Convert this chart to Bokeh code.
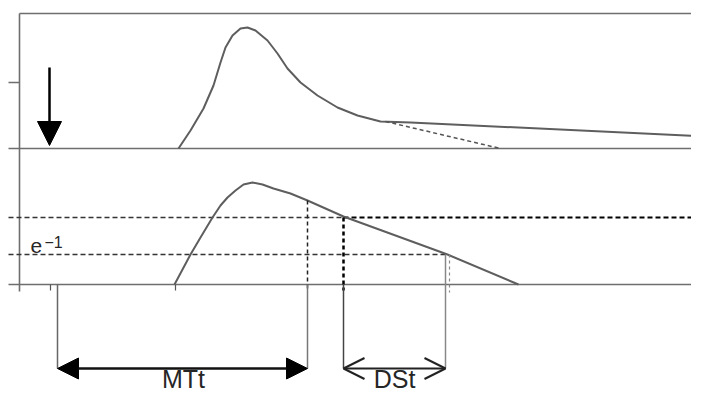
import numpy as np
from bokeh.plotting import figure
from bokeh.models import Range1d, Arrow, NormalHead, OpenHead
from bokeh.core.properties import value
from bokeh.embed import file_html
from bokeh.resources import INLINE

# ---- data (time axis in schematic units, signal in schematic units) ----
# upper panel: concentration-time curve (values above its own baseline)
top_t = [178, 190, 203, 213, 220, 225, 232, 240, 247, 255, 267, 277, 287, 300, 317, 337, 357, 380, 410, 707]
top_v = [0, 18, 40, 63, 86, 101, 113, 120, 121, 118, 108, 95, 80, 66, 53, 41, 33, 27, 26, 12]
# extrapolated first-pass decay (dashed)
tail_t = [385, 500]
tail_v = [27, 0]

# lower panel: log curve
low_t = [174, 190, 200, 212, 220, 227, 235, 243, 252, 262, 273, 290, 307, 343, 447, 518]
low_v = [0, 30, 47, 67, 79, 87, 94, 100, 102, 100, 96, 91, 84, 68, 30, 0]

level_hi = 67      # reference level
level_e = 30       # e^-1 level
t_inj = 49         # injection (arrow)
t_start = 57       # MTt start
t_mt = 307         # MTt end
t_ds1 = 343        # DSt start
t_ds2 = 445        # DSt end
tick_t = [50, 175]

# ---- layout constants ----
AX = 19            # left axis position
EDGE = 707
TOP_BASE = 136     # baseline of upper panel
TOP_TOP = 271      # top border of upper panel
TOP_TICK = 202
BR_Y = -84         # bracket arrows level

p = figure(width=691, height=391, x_range=Range1d(0, 691), y_range=Range1d(-107, 284),
           output_backend="svg", toolbar_location=None, min_border=0,
           x_axis_type=None, y_axis_type=None)
p.grid.visible = False
p.outline_line_color = None
p.background_fill_color = "white"
p.border_fill_color = "white"

axc = "#6e6e6e"
# frame lines
p.segment(x0=[AX, AX, 8, 8, 8], y0=[-7, TOP_TOP, TOP_BASE, 0, TOP_TICK],
          x1=[AX, EDGE, EDGE, EDGE, AX], y1=[TOP_TOP, TOP_TOP, TOP_BASE, 0, TOP_TICK],
          line_color=axc, line_width=1.6)
# small ticks below lower baseline
p.segment(x0=tick_t, y0=[0] * len(tick_t), x1=tick_t, y1=[-6] * len(tick_t),
          line_color="#555555", line_width=1.2)

# horizontal dashed levels
p.segment(x0=[8], y0=[level_hi], x1=[t_ds1], y1=[level_hi], line_color="#333333",
          line_width=1.3, line_dash="5 3")
p.segment(x0=[t_ds1], y0=[level_hi], x1=[EDGE], y1=[level_hi], line_color="#000000",
          line_width=2.0, line_dash="5 3")
p.segment(x0=[8], y0=[level_e], x1=[t_ds2 + 2], y1=[level_e], line_color="#333333",
          line_width=1.3, line_dash="5 3")

# curves
p.line(top_t, np.array(top_v) + TOP_BASE, line_color="#5e5e5e", line_width=2)
p.line(tail_t, np.array(tail_v) + TOP_BASE, line_color="#555555", line_width=1.5, line_dash="4 3")
p.line(low_t, low_v, line_color="#5e5e5e", line_width=2)

# vertical markers
p.segment(x0=[t_mt], y0=[84], x1=[t_mt], y1=[-6], line_color="#222222", line_width=1.5, line_dash="4 3")
p.segment(x0=[t_mt], y0=[0], x1=[t_mt], y1=[BR_Y], line_color="#777777", line_width=1.5)
p.segment(x0=[t_ds1], y0=[level_hi], x1=[t_ds1], y1=[-6], line_color="#000000", line_width=2.5, line_dash="4 3")
p.segment(x0=[t_ds1], y0=[0], x1=[t_ds1], y1=[BR_Y], line_color="#444444", line_width=1.5)
p.segment(x0=[t_ds2], y0=[level_e], x1=[t_ds2], y1=[BR_Y], line_color="#888888", line_width=1.5)
p.segment(x0=[t_ds2 + 4], y0=[level_e], x1=[t_ds2 + 4], y1=[-8], line_color="#888888", line_width=1.2, line_dash="3 3")
p.segment(x0=[t_start], y0=[0], x1=[t_start], y1=[BR_Y], line_color="#666666", line_width=1.5)

# injection arrow
p.add_layout(Arrow(end=NormalHead(size=24, fill_color="black", line_color="black"),
                   x_start=t_inj, y_start=217, x_end=t_inj, y_end=TOP_BASE + 3,
                   line_color="black", line_width=2.5))
# MTt bracket arrow
p.add_layout(Arrow(start=NormalHead(size=21, fill_color="black", line_color="black"),
                   end=NormalHead(size=21, fill_color="black", line_color="black"),
                   x_start=t_start, y_start=BR_Y, x_end=t_mt, y_end=BR_Y,
                   line_color="#111111", line_width=2.5))
# DSt bracket arrow
p.add_layout(Arrow(start=OpenHead(size=21, line_color="#222222", line_width=2),
                   end=OpenHead(size=21, line_color="#222222", line_width=2),
                   x_start=t_ds1, y_start=BR_Y, x_end=t_ds2, y_end=BR_Y,
                   line_color="#222222", line_width=2))

# texts
p.text(x=[(t_start + t_mt) / 2 + 1, (t_ds1 + t_ds2) / 2], y=[-94, -94], text=["MTt", "DSt"],
       text_align="center", text_baseline="middle", text_font=value("Liberation Sans"),
       text_font_size="25px", text_color="#262626")
p.text(x=[30], y=[39], text=["e"], text_align="left", text_baseline="middle",
       text_font=value("Liberation Sans"), text_font_size="21px", text_color="#262626")
p.text(x=[44], y=[43], text=["\u22121"], text_align="left", text_baseline="middle",
       text_font=value("Liberation Sans"), text_font_size="16px", text_color="#262626")

open("out.html", "w").write(file_html(p, INLINE))
